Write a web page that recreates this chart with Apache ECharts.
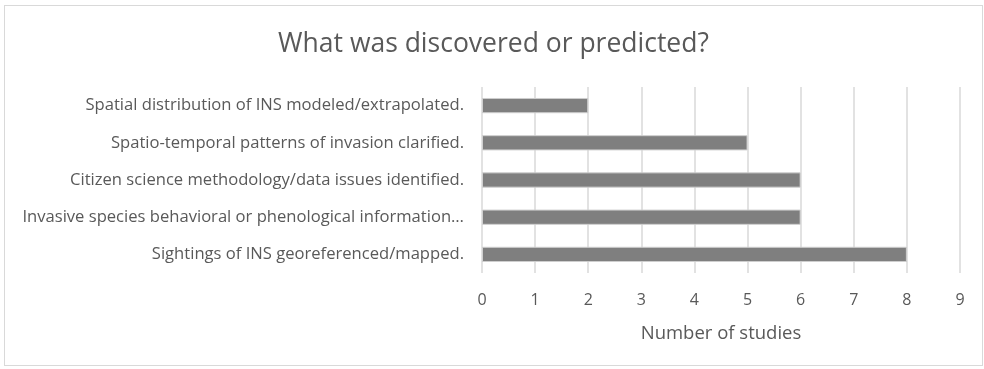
<!DOCTYPE html>
<html>
<head>
<meta charset="utf-8">
<title>What was discovered or predicted?</title>
<script src="https://cdn.jsdelivr.net/npm/echarts@6/dist/echarts.min.js"></script>
<style>
  html, body { margin: 0; padding: 0; background: #fff; }
  #chart_01 { position: absolute; left: 4px; top: 5px; width: 979px; height: 361px;
              border: 1px solid #d9d9d9; box-sizing: border-box; }
</style>
</head>
<body>
<div id="chart_01"></div>
<script>
// categories, bottom to top (ECharts category axis starts at bottom)
var categories = [
    'Sightings of INS georeferenced/mapped.',
    'Invasive species behavioral or phenological information…',
    'Citizen science methodology/data issues identified.',
    'Spatio-temporal patterns of invasion clarified.',
    'Spatial distribution of INS modeled/extrapolated.'
];
var studyCounts = [8, 6, 6, 5, 2];
var xTicks = [0, 1, 2, 3, 4, 5, 6, 7, 8, 9];

;(function(window) {

    initChartBar();

    function initChartBar() {
        var myChart_01 = echarts.init(document.getElementById('chart_01'));
        var font = '"Open Sans", "Noto Sans", sans-serif';

        var options = {
            animation: false,
            title: {
                text: 'What was discovered or predicted?',
                left: 'center',
                top: 20,
                textStyle: { fontFamily: font, fontSize: 26.5, fontWeight: 'normal', color: '#595959' }
            },
            grid: { left: 477, right: 22, top: 81, bottom: 92, containLabel: false },
            xAxis: {
                type: 'value',
                min: xTicks[0],
                max: xTicks[xTicks.length - 1],
                interval: 1,
                name: 'Number of studies',
                nameLocation: 'middle',
                nameGap: 51,
                nameTextStyle: { fontFamily: font, fontSize: 18.5, color: '#595959' },
                axisLine: { show: false },
                axisTick: { show: false },
                axisLabel: { fontFamily: font, fontSize: 16, color: '#595959', margin: 19 },
                splitLine: { lineStyle: { color: '#d9d9d9', width: 1.5 } }
            },
            yAxis: {
                type: 'category',
                data: categories,
                axisLine: { show: false },
                axisTick: { show: false },
                axisLabel: { fontFamily: font, fontSize: 16.6, color: '#595959', margin: 18 }
            },
            series: [{
                name: 'Number of studies',
                type: 'bar',
                data: studyCounts,
                barWidth: '41%',
                itemStyle: { color: '#7f7f7f', borderColor: '#cfcfcf', borderWidth: 1 }
            }]
        };

        myChart_01.setOption(options);
    }

}(window));
</script>
</body>
</html>
